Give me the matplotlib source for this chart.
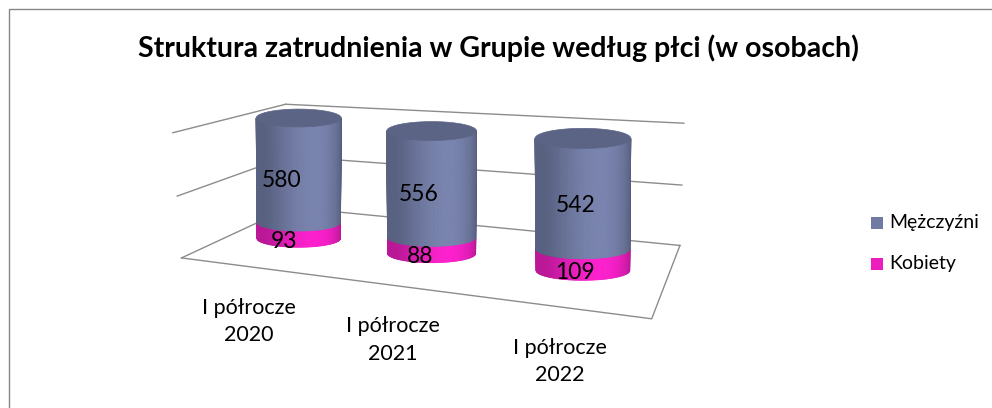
import numpy as np
import matplotlib
matplotlib.use('Agg')
import matplotlib.pyplot as plt
from matplotlib.collections import PolyCollection
from matplotlib.patches import Rectangle, Polygon

plt.rcParams['font.family'] = ['Lato', 'DejaVu Sans']

# Dane
kategorie = ['I półrocze\n2020', 'I półrocze\n2021', 'I półrocze\n2022']
kobiety = [93, 88, 109]
mezczyzni = [580, 556, 542]
serie = ['Mężczyźni', 'Kobiety']
y_max = 655
y_ticks = [0, y_max / 2, y_max]
tytul = 'Struktura zatrudnienia w Grupie według płci (w osobach)'

kol_m = '#707AA2'
kol_k = '#EA1EBE'
kol_siatka = '#8C8C8C'

# Widok 3D: gdzie narozniki pudla wykresu (x: kategorie 0..3, y: 0..1 osi, z: 0 przod .. 1 tyl)
# trafiaja na obrazku (piksele)
box_world = [(0, 0, 0), (3, 0, 0), (0, 0, 1), (3, 0, 1), (0, 1, 0), (0, 1, 1),
             (3, 1, 1), (0, .5, 0), (3, .5, 1), (0, .5, 1), (3, 1, 0)]
box_px = [(183, 259), (656, 319), (289, 206), (677, 245), (172, 133), (287, 104),
          (687, 125), (177, 197), (682, 186), (288, 156), (651, 161)]
promien = 0.34       # promien walca (w szerokosciach kategorii, mierzony na tylnej scianie)
splaszczenie = 0.21  # wysokosc elipsy / szerokosc
z_srodek = 0.47


# Dopasowanie macierzy kamery (DLT)
def kamera(world, pix):
    pix = np.asarray(pix, float)
    m = pix.mean(0)
    s = np.sqrt(2) / np.mean(np.linalg.norm(pix - m, axis=1))
    T = np.array([[s, 0, -s * m[0]], [0, s, -s * m[1]], [0, 0, 1]])
    pn = (pix - m) * s
    rows = []
    for (X, Y, Z), (u, v) in zip(world, pn):
        Xh = np.array([X, Y, Z, 1.0])
        rows.append(np.r_[Xh, np.zeros(4), -u * Xh])
        rows.append(np.r_[np.zeros(4), Xh, -v * Xh])
    _, _, Vt = np.linalg.svd(np.array(rows))
    return np.linalg.inv(T) @ Vt[-1].reshape(3, 4)


P = kamera(box_world, box_px)


def rzut(x, y, z):
    x, y, z = np.broadcast_arrays(np.asarray(x, float), np.asarray(y, float), np.asarray(z, float))
    h = P @ np.vstack([x.ravel(), y.ravel(), z.ravel(), np.ones(x.size)])
    return h[0] / h[2], h[1] / h[2]


def skaluj(kolor, f):
    rgb = np.array(matplotlib.colors.to_rgb(kolor)) * f
    return tuple(np.clip(rgb, 0, 1))


def przekroj(xc, y, t):
    yn = y / y_max
    u0, _ = rzut(xc, 0, z_srodek)          # os walca pionowa na obrazku
    _, v0 = rzut(xc, yn, z_srodek)
    ul, _ = rzut(xc - promien, yn, 1)
    ur, _ = rzut(xc + promien, yn, 1)
    u_l, _ = rzut(0, yn, 1)
    u_r, _ = rzut(len(kategorie), yn, 1)
    # polowa szerokosci: srednia z lokalnej skali i sredniej skali tylnej sciany
    a = 0.5 * (0.5 * (ur[0] - ul[0]) + promien * (u_r[0] - u_l[0]) / len(kategorie))
    return u0[0] + a * np.cos(t), v0[0] + a * splaszczenie * np.sin(t)


def walec(ax, xc, y0, y1, kolor, pokrywa):
    t = np.linspace(0, np.pi, 121)   # przednia polowa
    ub, vb = przekroj(xc, y0, t)
    ut, vt = przekroj(xc, y1, t)
    polys, cols = [], []
    for k in range(len(t) - 1):
        tm = 0.5 * (t[k] + t[k + 1])
        f = 0.74 + 0.36 * max(0, np.cos(tm - np.radians(65))) ** 2 - 0.06 * np.cos(tm)
        polys.append([(ub[k], vb[k]), (ub[k + 1], vb[k + 1]), (ut[k + 1], vt[k + 1]), (ut[k], vt[k])])
        cols.append(skaluj(kolor, f))
    ax.add_collection(PolyCollection(polys, facecolors=cols, edgecolors=cols, linewidths=0.6, zorder=3))
    if pokrywa:
        uc, vc = przekroj(xc, y1, np.linspace(0, 2 * np.pi, 181))
        ax.add_patch(Polygon(np.c_[uc, vc], closed=True, facecolor=skaluj(kolor, 0.82),
                             edgecolor=skaluj(kolor, 0.82), lw=0.5, zorder=4))


fig = plt.figure(figsize=(9.92, 4.08), dpi=100)
ax = fig.add_axes([0, 0, 1, 1])
ax.set_xlim(0, 992)
ax.set_ylim(408, 0)
ax.axis('off')

# ramka wykresu
ax.plot([8.5, 8.5, 1100], [500, 8.5, 8.5], color='#878787', lw=1.0)

# linie siatki na scianach i podloga
n = len(kategorie)
for yt in y_ticks:
    yn = yt / y_max
    u, v = rzut([0, 0], [yn, yn], [0, 1])
    ax.plot(u, v, color=kol_siatka, lw=1.0, zorder=1)
    u, v = rzut([0, n], [yn, yn], [1, 1])
    ax.plot(u, v, color=kol_siatka, lw=1.0, zorder=1)
u, v = rzut([0, n, n], [0, 0, 0], [0, 0, 1])
ax.plot(u, v, color=kol_siatka, lw=1.0, zorder=1)

# walce
for i in range(n):
    xc = i + 0.5
    walec(ax, xc, 0, kobiety[i], kol_k, False)
    walec(ax, xc, kobiety[i], kobiety[i] + mezczyzni[i], kol_m, True)
    zf = 0.36
    u, v = rzut(xc, kobiety[i] / 2 / y_max, zf)
    ax.text(u[0] - 3, v[0] + 5, f'{kobiety[i]}', ha='center', va='center', fontsize=16.5, zorder=6)
    u, v = rzut(xc, (kobiety[i] + mezczyzni[i] / 2) / y_max, zf)
    ax.text(u[0] - 3, v[0] + 5, f'{mezczyzni[i]}', ha='center', va='center', fontsize=16.5, zorder=6)
    u, v = rzut(xc, 0, 0)
    ax.text(u[0] + 2, v[0] + 55, kategorie[i], ha='center', va='center', fontsize=15.5,
            linespacing=1.45, zorder=6)

ax.text(498, 48, tytul, ha='center', va='center', fontsize=20.5, fontweight='bold')

# legenda
for kol, nazwa, yl in zip([kol_m, kol_k], serie, [222.5, 264]):
    ax.add_patch(Rectangle((871, yl - 6), 12, 12, facecolor=kol, edgecolor='none'))
    ax.text(889, yl, nazwa, ha='left', va='center', fontsize=14)

fig.savefig('out.png', dpi=100)
